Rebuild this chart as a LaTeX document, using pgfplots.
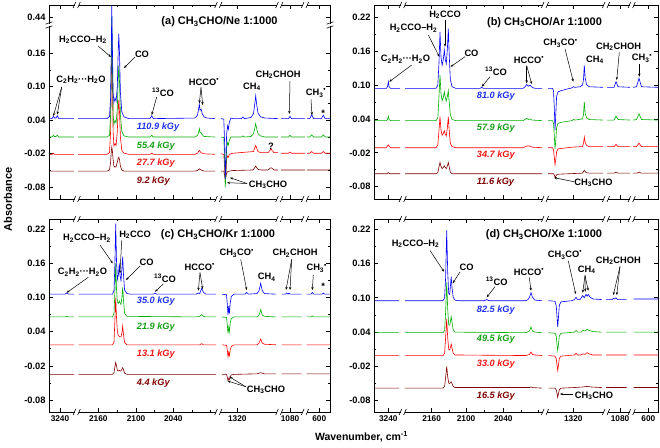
\documentclass[border=0pt]{standalone}
\usepackage{pgfplots}
\pgfplotsset{compat=1.18}
\usepackage{fontspec}
\setmainfont{Liberation Sans}
\usetikzlibrary{arrows.meta}
\definecolor{cB}{RGB}{0,0,255}
\definecolor{cG}{RGB}{0,175,0}
\definecolor{cR}{RGB}{255,0,0}
\definecolor{cD}{RGB}{128,0,0}
\definecolor{tB}{RGB}{30,50,235}
\definecolor{tG}{RGB}{20,160,20}
\definecolor{tR}{RGB}{240,20,20}
\definecolor{tD}{RGB}{128,0,0}
\pgfplotsset{
 panel/.style={
  scale only axis, xmin=0, clip=true, anchor=south west,
  axis line style={line width=0.9pt},
  tick style={black, line width=0.7pt},
  major tick length=4pt, minor tick length=2.2pt,
  tick align=inside,
  yticklabel style={font=\bfseries\fontsize{9.3}{10}\selectfont},
  xticklabel style={font=\bfseries\fontsize{8.3}{9}\selectfont},
  ytick={-0.08,-0.02,0.04,0.10,0.16,0.22},
  yticklabels={-0.08,-0.02,0.04,0.10,0.16,0.22},
  minor ytick={-0.05,0.01,0.07,0.13,0.19},
 },
 col1/.style={width=281pt, xmax=281, xtick={11,49.3,87,124.3,188.3,241,270.3}, minor xtick={68.2,105.7,143,161.7}},
 col2/.style={width=284pt, xmax=284, xtick={14.3,57.7,92,129.3,199.3,246,274.3}, minor xtick={74.9,110.7,147,164.1}},
 nolab/.style={xticklabels={{},{},{},{},{},{},{}}},
 spec/.style={line width=0.6pt, mark=none, unbounded coords=jump},
}
\newcommand\xbrk[2]{\fill[white] ({#1-2},{#2-1.4}) rectangle ({#1+2},{#2+1.4});
 \draw[line width=0.6pt] ({#1-3.6},{#2+3}) -- ({#1-1},{#2-3}) ({#1+1},{#2+3}) -- ({#1+3.6},{#2-3});}
\newcommand\ybrk[2]{\fill[white] ({#1-1.4},{#2-1.3}) rectangle ({#1+1.4},{#2+1.3});
 \draw[line width=0.6pt] ({#1-3.5},{#2-0.8}) -- ({#1+3.5},{#2-3.2}) ({#1-3.5},{#2+3.2}) -- ({#1+3.5},{#2+0.8});}
\begin{document}
\begin{tikzpicture}
\path[use as bounding box] (0,0) rectangle (660pt,447pt);
%================ (a)
\begin{axis}[panel,col1,nolab,at={(49pt,248pt)},height=194pt,ymin=-0.101,ymax=0.2465,
 ytick={-0.08,-0.02,0.04,0.10,0.16,0.2245}, yticklabels={-0.08,-0.02,0.04,0.10,0.16,0.44},
 minor ytick={-0.05,0.01,0.07,0.13}]
\addplot[spec,cD] coordinates {(1,-0.051)(25,-0.051)(26,nan)
(29,-0.051)(58,-0.051)(60.5,-0.049)(61.6,-0.035)(62.3,-0.015)(62.8,-0.008)(63.4,-0.015)(64.1,-0.03)(64.9,-0.042)(66,-0.044)(67.1,-0.043)(68.3,-0.035)(69.2,-0.028)(69.8,-0.026)(70.5,-0.03)(71.4,-0.042)(72.8,-0.049)(75,-0.051)(146,-0.051)(148.5,-0.05)(150.3,-0.047)(152,-0.049)(155,-0.051)(166,-0.051)(168,nan)
(172,-0.051)(174.8,-0.051)(175.6,-0.058)(176.3,-0.065)(177,-0.06)(177.6,-0.055)(178.6,-0.052)(180.3,-0.051)(184,-0.050)(204,-0.049)(205.7,-0.045)(206.7,-0.042)(207.7,-0.045)(209,-0.048)(212,-0.049)(219,-0.049)(221,-0.046)(222,-0.045)(223,-0.046)(225,-0.049)(229,-0.049)(230,nan)
(232,-0.049)(256,-0.049)(257,nan)(258,-0.049)(281,-0.049)};
\addplot[spec,cR] coordinates {(1,-0.021)(3,-0.021)(4.3,-0.019)(5.6,-0.021)(25,-0.021)(26,nan)
(29,-0.021)(58,-0.021)(60.5,-0.018)(61.6,0.02)(62.3,0.11)(62.8,0.175)(63.4,0.11)(64.1,0.02)(64.9,-0.006)(66,-0.002)(67.1,-0.005)(68.3,0.02)(69.2,0.06)(69.8,0.076)(70.5,0.055)(71.4,0.01)(72.8,-0.014)(75,-0.019)(80,-0.021)(101,-0.021)(102.7,-0.019)(104.4,-0.021)(146,-0.021)(148.5,-0.019)(150.3,-0.014)(152,-0.018)(155,-0.020)(166,-0.021)(168,nan)
(172,-0.020)(174.8,-0.021)(175.6,-0.045)(176.3,-0.072)(177,-0.055)(177.6,-0.03)(178.6,-0.024)(179.4,-0.026)(180.3,-0.021)(184,-0.019)(204.5,-0.016)(205.7,-0.01)(206.7,-0.005)(207.7,-0.01)(209,-0.016)(212,-0.018)(219,-0.018)(221,-0.014)(222,-0.011)(223,-0.014)(225,-0.018)(229,-0.018)(230,nan)
(232,-0.019)(239.5,-0.019)(241,-0.017)(242.5,-0.019)(256,-0.019)(257,nan)
(258,-0.019)(260.8,-0.019)(262.7,-0.016)(264.6,-0.019)(272.4,-0.019)(274.3,-0.016)(276.2,-0.019)(281,-0.019)};
\addplot[spec,cG] coordinates {(1,0.010)(3,0.010)(4.3,0.013)(5.6,0.011)(7,0.011)(8.3,0.013)(9.8,0.010)(25,0.010)(26,nan)
(29,0.010)(58,0.010)(60.5,0.013)(61.6,0.05)(62.3,0.14)(62.8,0.225)(63.4,0.14)(64.1,0.05)(64.9,0.033)(66,0.04)(67.1,0.035)(68.3,0.06)(69.2,0.115)(69.8,0.138)(70.5,0.11)(71.4,0.05)(72.8,0.02)(75,0.012)(80,0.010)(101,0.010)(102.7,0.013)(104.4,0.010)(146,0.010)(148.5,0.013)(149.6,0.018)(150.3,0.025)(151.1,0.018)(152.1,0.018)(153.2,0.014)(155,0.011)(166,0.010)(168,nan)
(172,0.010)(174.8,0.009)(175.6,-0.03)(176.3,-0.08)(177,-0.05)(177.6,-0.01)(178.6,0.0)(179.4,-0.004)(180.3,0.004)(181.8,0.010)(184,0.010)(192.5,0.010)(194,0.012)(195.5,0.010)(202,0.011)(204.5,0.016)(205.7,0.025)(206.7,0.034)(207.7,0.025)(209,0.016)(211.5,0.012)(216,0.010)(229,0.010)(230,nan)
(232,0.010)(239.5,0.010)(241,0.013)(242.5,0.010)(256,0.010)(257,nan)
(258,0.010)(260.8,0.010)(262.7,0.014)(264.6,0.010)(272.4,0.010)(274.3,0.014)(276.2,0.010)(281,0.010)};
\addplot[spec,cB] coordinates {(1,0.043)(3,0.043)(4.3,0.047)(5.6,0.044)(7,0.044)(8.3,0.048)(9.8,0.043)(25,0.043)(26,nan)
(29,0.043)(58,0.043)(60.5,0.047)(61.6,0.08)(62.3,0.17)(62.8,0.245)(63.4,0.17)(64.1,0.09)(64.9,0.072)(66,0.08)(67.1,0.074)(68.3,0.1)(69.2,0.165)(69.8,0.195)(70.5,0.16)(71.4,0.09)(72.8,0.055)(75,0.046)(80,0.043)(101,0.043)(102.7,0.048)(104.4,0.043)(146,0.044)(148.5,0.049)(149.6,0.06)(150.3,0.069)(151.1,0.058)(152.1,0.06)(153.2,0.052)(155,0.046)(158,0.044)(166,0.043)(168,nan)
(172,0.043)(174.8,0.042)(175.6,0.0)(176.3,-0.065)(177,-0.03)(177.6,0.015)(178.6,0.03)(179.4,0.024)(180.3,0.036)(181.8,0.044)(184,0.043)(192.5,0.043)(194,0.046)(195.5,0.043)(202,0.045)(204.5,0.052)(205.7,0.068)(206.7,0.084)(207.7,0.068)(209,0.053)(211.5,0.046)(216,0.044)(229,0.043)(230,nan)
(232,0.043)(239.5,0.043)(241,0.047)(242.5,0.043)(256,0.043)(257,nan)
(258,0.043)(260.8,0.043)(262.7,0.05)(264.6,0.043)(272.4,0.043)(274.3,0.049)(276.2,0.043)(281,0.043)};
\end{axis}
%================ (b)
\begin{axis}[panel,col2,nolab,at={(374pt,248pt)},height=194pt,ymin=-0.1018,ymax=0.2418]
\addplot[spec,cD] coordinates {(1,-0.057)(13,-0.057)(14.3,-0.055)(15.6,-0.057)(26,-0.057)(27,nan)
(31,-0.057)(62,-0.057)(63.8,-0.055)(65,-0.045)(66,-0.037)(67,-0.044)(68.1,-0.048)(69.3,-0.046)(70.3,-0.043)(71.3,-0.046)(72.3,-0.048)(73.4,-0.043)(74.3,-0.037)(75.2,-0.045)(76.3,-0.054)(78,-0.057)(168,-0.057)(170,nan)
(174,-0.057)(179.5,-0.057)(180.5,-0.06)(181.2,-0.064)(182,-0.061)(183,-0.058)(208.5,-0.056)(210.3,-0.051)(212,-0.055)(215,-0.056)(229,-0.056)(231,nan)
(233,-0.056)(240,-0.056)(242,-0.054)(244,-0.056)(256,-0.056)(257,nan)
(259,-0.056)(263,-0.056)(265,-0.054)(267,-0.056)(284,-0.056)};
\addplot[spec,cR] coordinates {(1,-0.011)(12.3,-0.011)(14.3,-0.006)(16.5,-0.011)(26,-0.011)(27,nan)
(31,-0.011)(62,-0.011)(63.8,-0.006)(65,0.02)(66,0.044)(67,0.02)(68.1,0.011)(69.3,0.014)(70.3,0.019)(71.3,0.013)(72.3,0.01)(73.4,0.025)(74.3,0.044)(75.2,0.02)(76.3,-0.003)(78,-0.009)(82,-0.011)(149,-0.011)(152.7,-0.008)(156,-0.008)(158,-0.010)(168,-0.011)(170,nan)
(174,-0.011)(178.5,-0.011)(179.5,-0.015)(180.3,-0.028)(181,-0.041)(181.7,-0.033)(182.6,-0.018)(184,-0.013)(198,-0.010)(208.5,-0.009)(209.5,-0.003)(210.3,0.008)(211.2,-0.002)(212.5,-0.007)(215,-0.009)(229,-0.009)(231,nan)
(233,-0.009)(240,-0.009)(242,-0.005)(244,-0.009)(256,-0.009)(257,nan)
(259,-0.009)(262.5,-0.009)(265,-0.003)(267.5,-0.009)(284,-0.009)};
\addplot[spec,cG] coordinates {(1,0.037)(12.3,0.037)(13.5,0.039)(14.3,0.045)(15.1,0.039)(16.5,0.037)(26,0.037)(27,nan)
(31,0.037)(62,0.037)(63.8,0.042)(65,0.08)(66,0.118)(67,0.085)(68.1,0.072)(69.3,0.078)(70.3,0.088)(71.3,0.078)(72.3,0.072)(73.4,0.08)(74.3,0.09)(75.2,0.07)(76.3,0.048)(78,0.039)(82,0.037)(149,0.037)(151,0.039)(152.7,0.041)(154.3,0.039)(156,0.04)(158,0.038)(168,0.037)(170,nan)
(174,0.037)(178.5,0.037)(179.5,0.032)(180.3,0.01)(181,-0.013)(181.7,0.0)(182.6,0.025)(184,0.032)(187,0.034)(198,0.037)(199.3,0.039)(201,0.038)(208.5,0.04)(209.5,0.048)(210.3,0.07)(211.2,0.05)(212.5,0.042)(215,0.039)(229,0.038)(231,nan)
(233,0.038)(240,0.038)(242,0.045)(244,0.039)(256,0.038)(257,nan)
(259,0.038)(262.5,0.039)(265,0.049)(267.5,0.039)(284,0.038)};
\addplot[spec,cB] coordinates {(1,0.094)(12.3,0.094)(13.5,0.097)(14.3,0.106)(15.1,0.097)(16.5,0.094)(26,0.094)(27,nan)
(31,0.094)(62,0.094)(63.8,0.1)(65,0.14)(66,0.194)(67,0.15)(68.1,0.135)(69.3,0.145)(70.3,0.162)(71.3,0.145)(72.3,0.138)(73.4,0.165)(74.3,0.2)(75.2,0.155)(76.3,0.11)(78,0.097)(82,0.094)(106,0.094)(107.7,0.096)(109.4,0.094)(149,0.094)(151,0.097)(152.7,0.101)(154.3,0.098)(156,0.1)(158,0.096)(161,0.094)(168,0.094)(170,nan)
(174,0.094)(178.5,0.094)(179.5,0.09)(180.3,0.06)(181,0.02)(181.7,0.045)(182.6,0.08)(184,0.088)(187,0.09)(193,0.093)(198,0.095)(199.3,0.097)(201,0.096)(206,0.097)(208.5,0.1)(209.5,0.11)(210.3,0.135)(211.2,0.112)(212.5,0.101)(215,0.097)(229,0.096)(231,nan)
(233,0.096)(240,0.096)(242,0.106)(244,0.097)(256,0.096)(257,nan)
(259,0.096)(262.5,0.097)(265,0.112)(267.5,0.097)(284,0.096)};
\end{axis}
%================ (c)
\begin{axis}[panel,col1,at={(49pt,35pt)},height=193pt,ymin=-0.1011,ymax=0.2381,
 xticklabels={3240,2160,2100,2040,1320,1080,600}]
\addplot[spec,cD] coordinates {(0.5,-0.035)(25,-0.035)(26,nan)
(29.5,-0.035)(63.5,-0.035)(65,-0.032)(65.9,-0.022)(66.7,-0.014)(67.5,-0.02)(68.4,-0.028)(69.4,-0.029)(70.3,-0.028)(71.1,-0.029)(72,-0.029)(72.9,-0.026)(73.7,-0.023)(74.5,-0.027)(75.6,-0.033)(78,-0.035)(167,-0.035)(169,nan)
(173,-0.035)(177.5,-0.035)(178.3,-0.040)(179,-0.046)(179.7,-0.042)(180.4,-0.044)(181.2,-0.039)(182.3,-0.036)(185,-0.035)(208,-0.034)(211.7,-0.032)(215.5,-0.034)(227,-0.034)(229,nan)
(232.5,-0.034)(252.5,-0.034)(254,nan)(257.5,-0.034)(281,-0.034)};
\addplot[spec,cR] coordinates {(0.5,0.017)(25,0.017)(26,nan)
(29.5,0.017)(63.5,0.017)(65,0.022)(65.9,0.06)(66.7,0.10)(67.5,0.065)(68.4,0.04)(69.4,0.033)(70.3,0.032)(71.1,0.031)(72,0.031)(72.9,0.038)(73.7,0.05)(74.5,0.035)(75.6,0.021)(78,0.017)(150.7,0.017)(152.7,0.019)(154.5,0.017)(167,0.017)(169,nan)
(173,0.017)(177.5,0.016)(178.3,0.008)(179,-0.004)(179.7,0.004)(180.4,-0.002)(181.2,0.008)(182.3,0.014)(185,0.017)(208,0.017)(210,0.020)(211.7,0.027)(213.3,0.020)(215.5,0.018)(227,0.017)(229,nan)
(232.5,0.017)(252.5,0.017)(254,nan)(257.5,0.017)(281,0.017)};
\addplot[spec,cG] coordinates {(0.5,0.066)(16,0.066)(17.7,0.067)(19.5,0.066)(25,0.066)(26,nan)
(29.5,0.066)(63.5,0.066)(65,0.072)(65.9,0.11)(66.7,0.16)(67.5,0.115)(68.4,0.092)(69.4,0.09)(70.3,0.094)(71.1,0.09)(72,0.088)(72.9,0.1)(73.7,0.118)(74.5,0.095)(75.6,0.072)(78,0.067)(147,0.066)(150.7,0.067)(152.7,0.070)(154.5,0.067)(157,0.066)(167,0.066)(169,nan)
(173,0.066)(177.5,0.065)(178.3,0.052)(179,0.037)(179.7,0.048)(180.4,0.040)(181.2,0.055)(182.3,0.063)(185,0.066)(208,0.066)(210,0.069)(211.7,0.079)(213.3,0.069)(215.5,0.067)(227,0.066)(229,nan)
(232.5,0.066)(252.5,0.066)(254,nan)
(257.5,0.066)(262,0.066)(263.3,0.068)(264.7,0.066)(281,0.066)};
\addplot[spec,cB] coordinates {(0.5,0.106)(16,0.106)(17.7,0.108)(19.5,0.106)(25,0.106)(26,nan)
(29.5,0.106)(63.5,0.106)(65,0.112)(65.9,0.16)(66.7,0.23)(67.5,0.165)(68.4,0.132)(69.4,0.14)(70.3,0.16)(71.1,0.138)(72,0.13)(72.9,0.15)(73.7,0.172)(74.5,0.14)(75.6,0.113)(78,0.107)(82,0.106)(104.3,0.106)(106,0.108)(107.7,0.106)(147,0.106)(149.3,0.108)(150.7,0.107)(152.7,0.116)(154.5,0.109)(157,0.106)(167,0.106)(169,nan)
(173,0.106)(177.5,0.105)(178.3,0.088)(179,0.069)(179.7,0.085)(180.4,0.072)(181.2,0.09)(182.3,0.102)(185,0.106)(196,0.106)(197.7,0.109)(199.5,0.106)(208,0.107)(210,0.112)(211.7,0.125)(213.3,0.112)(215.5,0.107)(227,0.106)(229,nan)
(232.5,0.106)(236.5,0.106)(237.7,0.108)(239,0.106)(240,0.108)(241.2,0.106)(252.5,0.106)(254,nan)
(257.5,0.106)(262,0.106)(263.3,0.109)(264.7,0.106)(273,0.106)(274.3,0.108)(275.6,0.106)(281,0.106)};
\end{axis}
%================ (d)
\begin{axis}[panel,col2,at={(374pt,35pt)},height=193pt,ymin=-0.0998,ymax=0.238,
 xticklabels={3240,2160,2100,2040,1320,1080,600}]
\addplot[spec,cD] coordinates {(1,-0.058)(25,-0.058)(26,nan)
(31,-0.058)(69,-0.058)(70.6,-0.055)(71.6,-0.04)(72.7,-0.02)(73.7,-0.038)(74.7,-0.049)(75.7,-0.05)(76.5,-0.048)(77.2,-0.047)(78,-0.05)(79.2,-0.055)(81,-0.057)(155.5,-0.057)(157,-0.056)(158.5,-0.057)(168,-0.058)(170,nan)
(174.5,-0.058)(181,-0.058)(182.3,-0.061)(183.2,-0.069)(183.7,-0.074)(184.3,-0.069)(185.3,-0.061)(187,-0.058)(200,-0.057)(209,-0.056)(213,-0.055)(217,-0.056)(227.5,-0.057)(229,nan)
(232,-0.057)(252.5,-0.057)(254,nan)(259.5,-0.057)(284,-0.057)};
\addplot[spec,cR] coordinates {(1,-0.001)(25,-0.001)(26,nan)
(31,-0.001)(69,-0.001)(70.6,0.003)(71.6,0.03)(72.7,0.063)(73.7,0.03)(74.7,0.01)(75.7,0.009)(76.5,0.014)(77.2,0.019)(78,0.012)(79.2,0.003)(81,0.0)(152,-0.001)(155.5,0.001)(157,0.005)(158.5,0.001)(161,0.0)(168,-0.001)(170,nan)
(174.5,-0.001)(181,-0.002)(182.3,-0.007)(183.2,-0.02)(183.7,-0.027)(184.3,-0.02)(185.3,-0.006)(187,-0.002)(200.5,0.0)(202,0.003)(203.5,0.0)(207,0.0)(209,0.002)(211,0.001)(213,0.004)(215,0.002)(219,0.0)(227.5,0.0)(229,nan)
(232,0.0)(252.5,0.0)(254,nan)(259.5,0.0)(284,0.0)};
\addplot[spec,cG] coordinates {(1,0.039)(25,0.039)(26,nan)
(31,0.039)(69,0.039)(70.6,0.043)(71.6,0.075)(72.7,0.127)(73.7,0.08)(74.7,0.053)(75.7,0.052)(76.5,0.06)(77.2,0.067)(78,0.058)(79.2,0.044)(81,0.040)(152,0.039)(155.5,0.042)(157,0.049)(158.5,0.042)(161,0.040)(168,0.039)(170,nan)
(174.5,0.039)(181,0.038)(182.3,0.032)(183.2,0.015)(183.7,0.008)(184.3,0.016)(185.3,0.033)(187,0.038)(200.5,0.040)(202,0.043)(203.5,0.040)(207,0.040)(209,0.043)(211,0.042)(213,0.045)(215,0.043)(219,0.041)(227.5,0.040)(229,nan)
(232,0.040)(252.5,0.040)(254,nan)(259.5,0.040)(284,0.040)};
\addplot[spec,cB] coordinates {(1,0.095)(25,0.095)(26,nan)
(31,0.095)(69,0.095)(70.6,0.1)(71.6,0.135)(72.7,0.218)(73.7,0.145)(74.7,0.108)(75.7,0.106)(76.5,0.122)(77.2,0.137)(78,0.118)(79.2,0.101)(81,0.096)(84,0.095)(110.5,0.095)(112.7,0.097)(115,0.095)(152,0.095)(154,0.097)(155.5,0.101)(157,0.109)(158.5,0.101)(161,0.096)(168,0.095)(170,nan)
(174.5,0.095)(181,0.094)(182.3,0.085)(183.2,0.062)(183.7,0.049)(184.3,0.062)(185.3,0.087)(187,0.093)(198,0.095)(200.5,0.097)(202,0.101)(203.5,0.097)(206,0.097)(208.7,0.104)(210.2,0.100)(212,0.106)(213.2,0.103)(214.3,0.106)(216,0.101)(219,0.098)(227.5,0.097)(229,nan)
(232,0.097)(238,0.097)(239.3,0.099)(240.5,0.098)(242,0.1)(243.5,0.097)(252.5,0.097)(254,nan)
(259.5,0.098)(284,0.098)};
\end{axis}
%================ annotations (pixel coordinates, y downward)
\begin{scope}[shift={(0pt,447pt)}, x=1pt, y=-1pt, font=\bfseries\fontsize{9.3}{10}\selectfont, >={Stealth[length=3pt,width=2.4pt]}, inner sep=0pt]
% axis breaks
\foreach \X in {76.7,218.3,279.3,305} {\xbrk{\X}{199} \xbrk{\X}{5} \xbrk{\X}{412} \xbrk{\X}{219}}
\foreach \X in {402.7,545,606,631.7} {\xbrk{\X}{199} \xbrk{\X}{5} \xbrk{\X}{412} \xbrk{\X}{219}}
\ybrk{49}{25} \ybrk{330}{25}
% axis titles
\node[rotate=90, font=\bfseries\fontsize{11}{12}\selectfont] at (8,199.5) {Absorbance};
\node[font=\bfseries\fontsize{10.5}{12}\selectfont] at (361.5,436.7) {Wavenumber, cm\textsuperscript{-1}};
% ---- (a)
\node[font=\bfseries\fontsize{11}{12}\selectfont] at (219.5,22) {(a) CH\textsubscript{3}CHO/Ne 1:1000};
\node at (83,40) {H\textsubscript{2}CCO–H\textsubscript{2}};
\draw[->,line width=0.5pt] (98,46) -- (111,57);
\node at (142,54) {CO};
\draw[->,line width=0.5pt] (135,57) -- (124,68);
\node at (81,80) {C\textsubscript{2}H\textsubscript{2}···H\textsubscript{2}O};
\draw[->,line width=0.5pt] (61.7,87) -- (53.3,116);
\draw[->,line width=0.5pt] (61.7,87) -- (57.3,114.5);
\node at (163,92) {\textsuperscript{13}CO};
\draw[->,line width=0.5pt] (156.7,97) -- (151.7,115);
\node at (204,82) {HCCO\textsuperscript{•}};
\draw[->,line width=0.5pt] (201,87.5) -- (199.3,103.3);
\draw[->,line width=0.5pt] (201,87.5) -- (202.7,105);
\node at (252,87) {CH\textsubscript{4}};
\node at (278,75) {CH\textsubscript{2}CHOH};
\draw[->,line width=0.5pt] (290,81) -- (289.3,114);
\node at (316,93) {CH\textsubscript{3}\textsuperscript{•}};
\draw[->,line width=0.5pt] (311,99.5) -- (312,115);
\node at (323.3,113.5) {*};
\node at (271,146.7) {?};
\node at (268,185) {CH\textsubscript{3}CHO};
\draw[->,line width=0.5pt] (247,183.5) -- (230,177.7);
\draw[->,line width=0.5pt] (247,183.5) -- (227,182.7);
\begin{scope}[font=\bfseries\itshape\fontsize{9.2}{10}\selectfont]
\node[anchor=west,text=tB] at (136.7,127) {110.9 kGy};
\node[anchor=west,text=tG] at (136.7,146) {55.4 kGy};
\node[anchor=west,text=tR] at (136.7,163) {27.7 kGy};
\node[anchor=west,text=tD] at (136.7,181) {9.2 kGy};
\node[anchor=west,text=tB] at (476.7,95.7) {81.0 kGy};
\node[anchor=west,text=tG] at (476.7,128.3) {57.9 kGy};
\node[anchor=west,text=tR] at (476.7,155) {34.7 kGy};
\node[anchor=west,text=tD] at (476.7,181.7) {11.6 kGy};
\node[anchor=west,text=tB] at (136.7,300.7) {35.0 kGy};
\node[anchor=west,text=tG] at (136.7,327.3) {21.9 kGy};
\node[anchor=west,text=tR] at (136.7,354) {13.1 kGy};
\node[anchor=west,text=tD] at (136.7,382.7) {4.4 kGy};
\node[anchor=west,text=tB] at (476.7,310) {82.5 kGy};
\node[anchor=west,text=tG] at (476.7,339.3) {49.5 kGy};
\node[anchor=west,text=tR] at (476.7,364.3) {33.0 kGy};
\node[anchor=west,text=tD] at (476.7,396) {16.5 kGy};
\end{scope}
% ---- (b)
\node[font=\bfseries\fontsize{11}{12}\selectfont] at (544.5,22.3) {(b) CH\textsubscript{3}CHO/Ar 1:1000};
\node at (445,15) {H\textsubscript{2}CCO};
\draw[->,line width=0.5pt] (445,20.5) -- (445,46.7);
\node at (413.5,28.3) {H\textsubscript{2}CCO–H\textsubscript{2}};
\draw[->,line width=0.5pt] (428.3,35) -- (439.3,56.7);
\node at (471.5,53.3) {CO};
\draw[->,line width=0.5pt] (465,56.7) -- (450.7,66.7);
\node at (405.5,59.3) {C\textsubscript{2}H\textsubscript{2}···H\textsubscript{2}O};
\draw[->,line width=0.5pt] (411.7,65) -- (389.3,81.7);
\node at (496,71) {\textsuperscript{13}CO};
\draw[->,line width=0.5pt] (490,76.7) -- (481.7,86.7);
\node at (529,60) {HCCO\textsuperscript{•}};
\draw[->,line width=0.5pt] (526.7,65.7) -- (526.7,83.3);
\draw[->,line width=0.5pt] (526.7,65.7) -- (531.7,84);
\node at (560.5,43.3) {CH\textsubscript{3}CO\textsuperscript{•}};
\draw[->,line width=0.5pt] (565,49) -- (573.3,81.7);
\node at (595,60) {CH\textsubscript{4}};
\node at (618.5,46.7) {CH\textsubscript{2}CHOH};
\draw[->,line width=0.5pt] (619.3,52.5) -- (616.7,80);
\node at (642,58.3) {CH\textsubscript{3}\textsuperscript{•}};
\draw[->,line width=0.5pt] (639.3,64.5) -- (639.3,76.7);
\node at (593.5,182.7) {CH\textsubscript{3}CHO};
\draw[->,line width=0.5pt] (574,181.7) -- (554,177.7);
% ---- (c)
\node[font=\bfseries\fontsize{11}{12}\selectfont] at (218,235) {(c) CH\textsubscript{3}CHO/Kr 1:1000};
\node at (87,238.3) {H\textsubscript{2}CCO–H\textsubscript{2}};
\draw[->,line width=0.5pt] (100,245) -- (112.7,263.3);
\node at (135,235) {H\textsubscript{2}CCO};
\draw[->,line width=0.5pt] (121.7,240.5) -- (120,273.3);
\node at (146.7,262.3) {CO};
\draw[->,line width=0.5pt] (140,266) -- (126,280);
\node at (82.5,272.3) {C\textsubscript{2}H\textsubscript{2}···H\textsubscript{2}O};
\draw[->,line width=0.5pt] (88.3,277.3) -- (66.7,292.7);
\node at (165,278.3) {\textsuperscript{13}CO};
\draw[->,line width=0.5pt] (163.3,284) -- (155,291.7);
\node at (199.7,266.7) {HCCO\textsuperscript{•}};
\draw[->,line width=0.5pt] (200,272.7) -- (198.3,290.7);
\draw[->,line width=0.5pt] (200,272.7) -- (202.7,289);
\node at (236.7,253.3) {CH\textsubscript{3}CO\textsuperscript{•}};
\draw[->,line width=0.5pt] (240.7,259.3) -- (246.7,290);
\node at (266.7,277.3) {CH\textsubscript{4}};
\node at (295,253.3) {CH\textsubscript{2}CHOH};
\draw[->,line width=0.5pt] (291.7,259.3) -- (286,290);
\draw[->,line width=0.5pt] (291.7,259.3) -- (290,290);
\node at (316.7,268.3) {CH\textsubscript{3}\textsuperscript{•}};
\draw[->,line width=0.5pt] (313.3,275) -- (312.3,290);
\node at (323.3,286.7) {*};
\node at (266,390) {CH\textsubscript{3}CHO};
\draw[->,line width=0.5pt] (245.7,386.7) -- (229.3,376.7);
\draw[->,line width=0.5pt] (245.7,386.7) -- (227.7,381);
% ---- (d)
\node[font=\bfseries\fontsize{11}{12}\selectfont] at (544,235) {(d) CH\textsubscript{3}CHO/Xe 1:1000};
\node at (415.5,244) {H\textsubscript{2}CCO–H\textsubscript{2}};
\draw[->,line width=0.5pt] (430,250.5) -- (444,271.7);
\node at (466.7,267.7) {CO};
\draw[->,line width=0.5pt] (460,272) -- (452.7,283.3);
\node at (496.7,281) {\textsuperscript{13}CO};
\draw[->,line width=0.5pt] (495,286.7) -- (486.7,297.3);
\node at (529,271.7) {HCCO\textsuperscript{•}};
\draw[->,line width=0.5pt] (529.3,277.5) -- (531,290.7);
\node at (565,255) {CH\textsubscript{3}CO\textsuperscript{•}};
\draw[->,line width=0.5pt] (568.3,261) -- (575.7,294);
\node at (586.7,270) {CH\textsubscript{4}};
\draw[->,line width=0.5pt] (585,275.5) -- (582.7,292.7);
\draw[->,line width=0.5pt] (585,275.5) -- (585.3,291.7);
\draw[->,line width=0.5pt] (585,275.5) -- (588.3,290.7);
\node at (618.3,260.7) {CH\textsubscript{2}CHOH};
\draw[->,line width=0.5pt] (620,266.5) -- (613.3,295);
\draw[->,line width=0.5pt] (620,266.5) -- (616.7,295);
\node at (594,395.7) {CH\textsubscript{3}CHO};
\draw[->,line width=0.5pt] (573.3,394) -- (560,394);
\end{scope}
\end{tikzpicture}
\end{document}
